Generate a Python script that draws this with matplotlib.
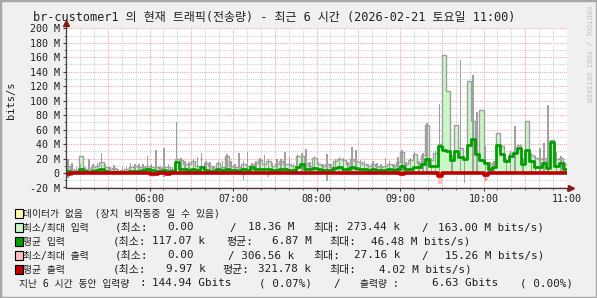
import matplotlib
matplotlib.use('Agg')
import matplotlib.pyplot as plt
import numpy as np
from matplotlib.patches import Rectangle

MONO = ['DejaVu Sans Mono', 'Noto Sans CJK KR']
plt.rcParams['font.family'] = MONO
plt.rcParams['axes.unicode_minus'] = False

# 3-minute slots from 05:00 to 11:00, values in M bits/s
in_max = [10, 5, 4, 23, 5, 6, 8, 10, 15, 9,
          5, 7, 3, 4, 5, 8, 10, 8, 9, 10,
          9, 8, 7, 9, 8, 6, 20, 18, 13, 12,
          17, 10, 9, 14, 10, 6, 14, 9, 23, 10,
          9, 8, 13, 10, 11, 14, 18, 13, 17, 10,
          12, 16, 12, 13, 10, 23, 23, 14, 10, 21,
          12, 10, 12, 9, 17, 19, 18, 12, 19, 16,
          15, 13, 10, 13, 10, 9, 10, 13, 10, 15,
          29, 12, 18, 26, 14, 25, 66, 18, 28, 40,
          163, 113, 21, 66, 35, 21, 127, 72, 28, 87,
          15, 12, 14, 56, 37, 18, 28, 30, 39, 18,
          72, 25, 21, 20, 21, 14, 45, 19, 21, 12]
in_avg = [3, 2, 2, 6, 3, 2, 3, 4, 6, 3,
          2, 2, 1, 1, 2, 3, 3, 3, 4, 5,
          4, 3, 3, 4, 3, 3, 15, 5, 5, 4,
          5, 4, 8, 4, 3, 3, 5, 4, 6, 4,
          4, 3, 5, 4, 9, 5, 5, 5, 5, 4,
          4, 5, 5, 4, 4, 9, 13, 6, 5, 7,
          5, 4, 4, 4, 7, 8, 6, 5, 9, 7,
          6, 5, 4, 5, 4, 4, 4, 5, 4, 5,
          10, 6, 6, 8, 8, 12, 20, 10, 10, 37,
          32, 31, 18, 30, 22, 20, 39, 46.48, 26, 18,
          14, 6, 8, 39, 26, 16, 24, 27, 34, 13,
          32, 16, 9, 9, 14, 7, 43, 10, 14, 6]
in_peak = [20, 14, 8, 12, 9, 20, 12, 14, 27, 12,
           9, 11, 6, 8, 9, 14, 13, 12, 13, 23,
           12, 32, 10, 34, 12, 9, 71, 21, 16, 15,
           20, 22, 28, 17, 15, 10, 17, 16, 26, 16,
           13, 28, 16, 29, 14, 17, 21, 25, 20, 14,
           20, 19, 29, 22, 13, 26, 27, 33, 15, 24,
           15, 13, 26, 12, 20, 22, 21, 15, 36, 32,
           18, 16, 13, 16, 14, 13, 21, 16, 13, 22,
           32, 15, 21, 29, 17, 28, 69, 21, 31, 96,
           0, 0, 25, 0, 156, 24, 0, 135, 84, 0,
           38, 15, 17, 0, 0, 21, 31, 65, 0, 21,
           0, 28, 24, 34, 41, 94, 0, 29, 24, 15]
out_max = [6.5, 3, 1, 1, 1, 1, 1, 1, 1, 3,
           2, 1, 1, 1, 1, 1, 1, 1, 1, 1,
           5.5, 4, 1, 1, 4, 3, 1, 1, 1, 1,
           1, 1, 1, 1, 1, 1, 1, 1, 1, 1,
           1, 1, 2, 1, 1, 1, 1, 1, 3, 1,
           1, 1, 1, 1, 1, 1, 1, 1, 1, 1,
           1, 1, 2, 1, 1, 1, 1, 1, 1, 1,
           1, 1, 1, 1, 1, 1, 1, 1, 1, 1,
           3.7, 1, 1, 1, 1, 1, 1, 1, 3, 15.26,
           2, 1, 1, 1, 2, 1, 1, 1, 1, 1,
           11, 2, 1, 1, 2, 1, 1, 1, 1, 1,
           2, 1, 1, 1, 1, 1, 1, 1, 1, 1]
out_peak = [7, 4, 0, 0, 0, 0, 0, 0, 0, 0,
            0, 0, 0, 0, 0, 0, 0, 0, 0, 0,
            0, 0, 0, 5, 0, 0, 0, 0, 0, 0,
            0, 0, 0, 0, 0, 0, 0, 0, 0, 0,
            0, 0, 9, 0, 0, 0, 0, 0, 6, 0,
            0, 0, 0, 0, 0, 0, 0, 0, 0, 0,
            0, 0, 11, 0, 0, 0, 0, 0, 0, 0,
            0, 0, 0, 0, 0, 0, 0, 0, 0, 0,
            0, 0, 0, 0, 0, 0, 0, 0, 0, 0,
            0, 0, 0, 0, 0, 14, 0, 0, 0, 0,
            11, 0, 0, 0, 0, 0, 0, 0, 0, 0,
            0, 0, 0, 0, 0, 0, 0, 0, 0, 0]
out_avg = [1.5, 0.5, 0.3, 0.3, 0.3, 0.3, 0.3, 0.3, 0.3, 0.6,
           0.4, 0.3, 0.3, 0.3, 0.3, 0.3, 0.3, 0.3, 0.3, 0.3,
           1.2, 0.8, 0.3, 0.3, 0.8, 0.5, 0.3, 0.3, 0.3, 0.3,
           0.3, 0.3, 0.3, 0.3, 0.3, 0.3, 0.3, 0.3, 0.3, 0.3,
           0.3, 0.3, 0.4, 0.3, 0.3, 0.3, 0.3, 0.3, 0.5, 0.3,
           0.3, 0.3, 0.3, 0.3, 0.3, 0.3, 0.3, 0.3, 0.3, 0.3,
           0.3, 0.3, 0.4, 0.3, 0.3, 0.3, 0.3, 0.3, 0.3, 0.3,
           0.3, 0.3, 0.3, 0.3, 0.3, 0.3, 0.3, 0.3, 0.3, 0.3,
           0.7, 0.3, 0.3, 0.3, 0.3, 0.3, 0.3, 0.3, 0.6, 4.02,
           0.4, 0.3, 0.3, 0.3, 0.4, 0.3, 0.3, 0.3, 0.3, 0.3,
           2.5, 0.4, 0.3, 0.3, 0.4, 0.3, 0.3, 0.3, 0.3, 0.3,
           0.4, 0.3, 0.3, 0.3, 0.3, 0.3, 0.3, 0.3, 0.3, 0.3]

x_ticks = [60, 120, 180, 240, 300, 360]
x_labels = ['06:00', '07:00', '08:00', '09:00', '10:00', '11:00']
y_ticks = [-20, 0, 20, 40, 60, 80, 100, 120, 140, 160, 180, 200]
y_labels = ['-20 M', '0', '20 M', '40 M', '60 M', '80 M', '100 M',
            '120 M', '140 M', '160 M', '180 M', '200 M']

title = 'br-customer1 의 현재 트래픽(전송량) - 최근 6 시간 (2026-02-21 토요일 11:00)'

LG = '#C8F8C8'
GRAY = '#A0A0A0'
GREEN = '#00A000'
PINK = '#FFC0C0'
RED = '#C00000'

fig = plt.figure(figsize=(5.97, 2.98), dpi=100)
fig.patch.set_facecolor('#F0F0F0')
W, H = 597.0, 298.0

def fx(px):
    return px / W

def fy(py):
    return 1 - py / H

ax = fig.add_axes([fx(66), fy(187.5), (567 - 66) / W, (187.5 - 28.3) / H])
ax.set_facecolor('white')

step = 3
n = len(in_max)
edges = np.arange(n + 1) * step
mids = np.arange(n) * step + step / 2.0

def ext(v):
    v = np.asarray(v, dtype=float)
    return np.append(v, v[-1])

# grid
for v in range(-10, 200, 20):
    ax.axhline(v, color='#D0D0D0', lw=0.8, ls=(0, (1, 1)), zorder=0)
for v in range(-20, 201, 20):
    ax.axhline(v, color='#F0A8A8', lw=0.8, ls=(0, (1, 1)), zorder=0)
for m in range(10, 361, 10):
    if m % 30:
        ax.axvline(m, color='#D0D0D0', lw=0.8, ls=(0, (1, 1)), zorder=0)
for m in range(30, 361, 30):
    ax.axvline(m, color='#F0A8A8', lw=0.8, ls=(0, (1, 1)), zorder=0)

# input min/max area
ax.fill_between(edges, 0, ext(in_max), step='post', color=LG, lw=0, zorder=2)
ax.step(edges, ext(in_max), where='post', color=GRAY, lw=1.0, zorder=3)
ax.bar(mids, in_peak, width=1.1, color=GRAY, lw=0, zorder=3)

# output min/max area (drawn below zero)
out_neg = -np.asarray(out_max, dtype=float)
ax.fill_between(edges, 0, ext(out_neg), step='post', color=PINK, lw=0, zorder=2)
ax.bar(mids, -np.asarray(out_peak, dtype=float), width=1.1, color=GRAY, lw=0, zorder=3)

# averages
ax.step(edges, ext(in_avg), where='post', color=GREEN, lw=2.0, zorder=4)
ax.step(edges, -ext(out_avg), where='post', color=RED, lw=2.6, zorder=5)

ax.set_xlim(0, 360)
ax.set_ylim(-20, 200)
ax.set_xticks(x_ticks)
ax.set_xticklabels(x_labels)
ax.set_yticks(y_ticks)
ax.set_yticklabels(y_labels)
ax.set_xticks(range(10, 361, 10), minor=True)
ax.set_yticks(range(-10, 200, 20), minor=True)
ax.tick_params(axis='both', which='major', length=2.5, width=0.8, color='#404040',
               labelsize=7.2, labelcolor='#202020', pad=2)
ax.tick_params(axis='both', which='minor', length=1.5, width=0.6, color='#606060')
for s in ['top', 'right']:
    ax.spines[s].set_visible(False)
for s in ['left', 'bottom']:
    ax.spines[s].set_color('#404040')
    ax.spines[s].set_linewidth(0.9)
    ax.spines[s].set_zorder(6)

# axis arrows
ax.plot([0, 0], [1.0, 1.035], color='#404040', lw=0.9, transform=ax.transAxes, clip_on=False)
ax.plot([1.0, 1.008], [0, 0], color='#404040', lw=0.9, transform=ax.transAxes, clip_on=False)
ax.plot([0], [1.035], marker='^', color='#8B1A1A', ms=4, transform=ax.transAxes, clip_on=False, zorder=7)
ax.plot([1.008], [0], marker='>', color='#8B1A1A', ms=4, transform=ax.transAxes, clip_on=False, zorder=7)

ax.set_ylabel('bits/s', fontsize=7.5, color='#202020')
ax.yaxis.set_label_coords(-0.1, 0.55)

fig.text(fx(33), fy(18), title, fontsize=8.6, color='#202020', ha='left', va='center')
fig.text(fx(588), fy(6), 'RRDTOOL / TOBI OETIKER', fontsize=5.2, color='#C0C0C0',
         rotation=270, ha='center', va='top')

# legend
rows_y = [213, 227.5, 241.5, 255.5, 269.5, 283.5]
swatches = ['#FFFFA8', LG, GREEN, PINK, RED]
for yy, c in zip(rows_y[:5], swatches):
    fig.patches.append(Rectangle((fx(15), fy(yy + 4.5)), 8 / W, 9 / H, transform=fig.transFigure,
                                 facecolor=c, edgecolor='black', lw=0.8))

legend_rows = [
    [(23, '데이터가 없음  (장치 비작동중 일 수 있음)')],
    [(23, '최소/최대 입력'), (115, '(최소:'), (167, '0.00'), (229, '/'), (248, '18.36 M'),
     (313, '최대:'), (347, '273.44 k'), (421, '/'), (438, '163.00 M bits/s)')],
    [(23, '평균 입력'), (113, '(최소:'), (152, '117.07 k'), (226, '평균:'), (272, '6.87 M'),
     (329, '최대:'), (371, '46.48 M bits/s)')],
    [(23, '최소/최대 출력'), (115, '(최소:'), (167, '0.00'), (228, '/ 306.56 k'),
     (313, '최대:'), (354, '27.16 k'), (421, '/'), (445, '15.26 M bits/s)')],
    [(23, '평균 출력'), (113, '(최소:'), (166, '9.97 k'), (222, '평균:'), (258, '321.78 k'),
     (329, '최대:'), (379, '4.02 M bits/s)')],
    [(19, '지난 6 시간 동안 입력량'), (139, ':'), (152, '144.94 Gbits'), (259, '( 0.07%)'),
     (333, '/'), (360, '출력량 :'), (432, '6.63 Gbits'), (520, '( 0.00%)')],
]

def has_hangul(s):
    return any('\uac00' <= ch <= '\ud7a3' for ch in s)

for yy, row in zip(rows_y, legend_rows):
    for xx, s in row:
        size = 7.0 if has_hangul(s) and len(s) > 4 and not s.startswith('(') else 7.9
        fig.text(fx(xx), fy(yy), s, fontsize=size, color='#202020', ha='left', va='center')

# frame
fig.patches.append(Rectangle((0, 0), 1, 1, transform=fig.transFigure, fill=False,
                             edgecolor='#A8A8A8', lw=2.5))

fig.savefig('out.png', dpi=100, facecolor=fig.get_facecolor())
